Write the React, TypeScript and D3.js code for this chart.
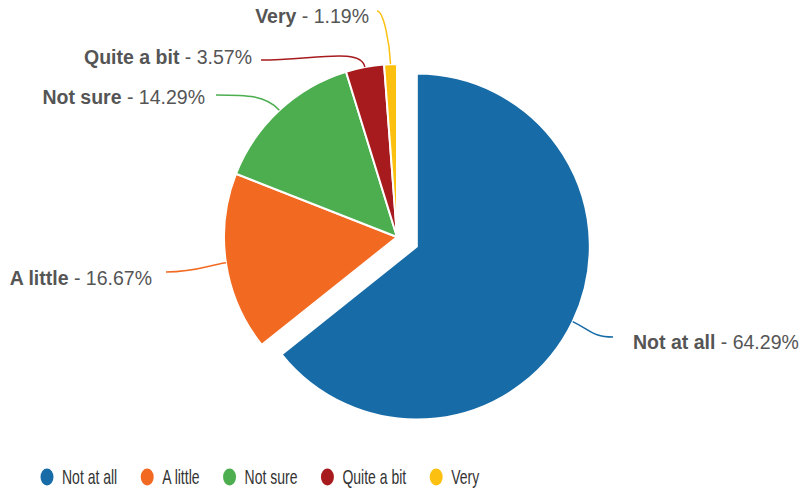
import { useEffect, useRef } from 'react';
import * as d3 from 'd3';

const categories = ['Not at all', 'A little', 'Not sure', 'Quite a bit', 'Very'];
const percents = [64.29, 16.67, 14.29, 3.57, 1.19];
const colors = ['#176ba7', '#f26a22', '#4cae4f', '#a71b1e', '#fcc010'];

// where each data label sits (connector start + text position)
const labelLayout = [
  { ax: 613, ay: 337, tx: 633, ty: 342, side: 'right' },
  { ax: 166, ay: 272, tx: 152, ty: 278, side: 'left' },
  { ax: 216, ay: 95, tx: 205, ty: 97, side: 'left' },
  { ax: 261, ay: 60, tx: 252, ty: 57, side: 'left' },
  { ax: 377, ay: 11, tx: 369, ty: 16, side: 'left' },
];

const W = 806;
const H = 488;
const cx = 397;
const cy = 237;
const radius = 173;
const explode = 22;
const legendSquash = 0.7; // legend font in the original is a condensed face

export default function App() {
  const svgRef = useRef<SVGSVGElement>(null);

  useEffect(() => {
    if (!svgRef.current) return;
    const svg = d3.select(svgRef.current);
    svg.selectAll('*').remove();

    const data = categories.map((c, i) => ({ name: c, value: percents[i], color: colors[i] }));
    const pie = d3.pie<any>().sort(null).value(d => d.value);
    const arcs = pie(data);
    const arc = d3.arc<any>().innerRadius(0).outerRadius(radius);

    const g = svg.append('g').attr('transform', `translate(${cx},${cy})`);

    const offsetOf = (a: any, i: number) => {
      if (i !== 0) return [0, 0];
      const mid = (a.startAngle + a.endAngle) / 2;
      return [Math.sin(mid) * explode, -Math.cos(mid) * explode];
    };

    g.selectAll('path.slice')
      .data(arcs)
      .enter()
      .append('path')
      .attr('class', 'slice')
      .attr('transform', (a, i) => {
        const [dx, dy] = offsetOf(a, i);
        return `translate(${dx},${dy})`;
      })
      .attr('d', arc)
      .attr('fill', d => d.data.color)
      .attr('stroke', '#fff')
      .attr('stroke-width', 2)
      .attr('stroke-linejoin', 'round');

    // connectors + labels
    const font = '"Liberation Sans", Arial, sans-serif';
    arcs.forEach((a, i) => {
      const mid = (a.startAngle + a.endAngle) / 2;
      const [dx, dy] = offsetOf(a, i);
      const ux = Math.sin(mid);
      const uy = -Math.cos(mid);
      const ex = cx + dx + ux * radius;
      const ey = cy + dy + uy * radius;
      const L = labelLayout[i];
      const path = d3.path();
      path.moveTo(L.ax, L.ay);
      path.bezierCurveTo(L.ax + 0.5 * (ex - L.ax), L.ay, ex + ux * 20, ey + uy * 20, ex, ey);
      svg.append('path')
        .attr('d', path.toString())
        .attr('fill', 'none')
        .attr('stroke', a.data.color)
        .attr('stroke-width', 1.5);

      const t = svg.append('text')
        .attr('x', L.tx)
        .attr('y', L.ty)
        .attr('dy', '0.35em')
        .attr('text-anchor', L.side === 'left' ? 'end' : 'start')
        .attr('font-family', font)
        .attr('font-size', 19.5)
        .attr('fill', '#555');
      t.append('tspan').attr('font-weight', 'bold').text(a.data.name);
      t.append('tspan').text(` - ${a.data.value.toFixed(2)}%`);
    });

    // legend
    const legend = svg.append('g').attr('transform', `translate(0,477)`);
    let x = 41;
    data.forEach(d => {
      legend.append('ellipse')
        .attr('cx', x + 6)
        .attr('cy', 0)
        .attr('rx', 6.5)
        .attr('ry', 8.5)
        .attr('fill', d.color);
      const txt = legend.append('text')
        .attr('transform', `translate(${x + 21},0) scale(${legendSquash},1)`)
        .attr('dy', '0.36em')
        .attr('font-family', '"Liberation Sans Narrow", "Arial Narrow", "Liberation Sans", sans-serif')
        .attr('font-size', 20)
        .attr('fill', '#333')
        .text(d.name);
      const w = (txt.node() as SVGTextElement).getComputedTextLength() * legendSquash;
      x += 21 + w + 24;
    });
  }, []);

  return (
    <svg
      ref={svgRef}
      width={W}
      height={H}
      style={{ position: 'absolute', left: 0, top: 0, background: '#fff' }}
    />
  );
}
